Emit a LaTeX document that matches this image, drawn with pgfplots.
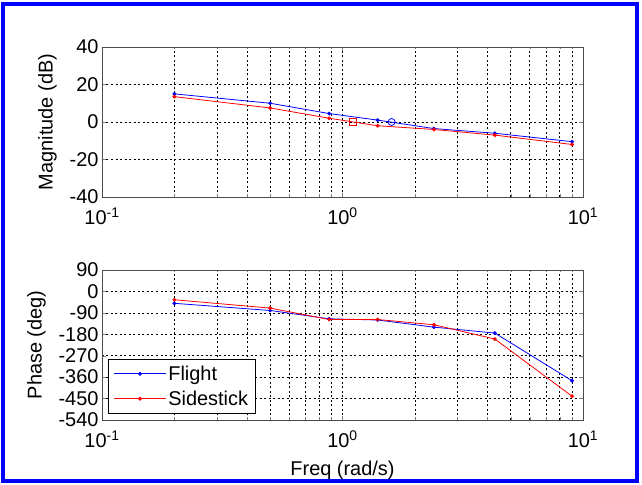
\documentclass[border=0pt]{standalone}
\usepackage{pgfplots}
\pgfplotsset{compat=1.18}
\usepackage{fontspec}
\setmainfont{Liberation Sans}
\pgfplotsset{
  myfl/.style={blue, line width=0.8bp, mark=*, mark size=1.5bp, mark options={fill=blue}},
  mysd/.style={red, line width=0.8bp, mark=*, mark size=1.5bp, mark options={fill=red}},
}
\begin{document}
\begin{tikzpicture}[x=1bp,y=1bp]
\path[fill=white] (0,0) rectangle (642,485);
\draw[blue, line width=4bp] (3,4) rectangle (637,481);
\begin{axis}[at={(102bp,288bp)}, anchor=south west,
  xmode=log, xmin=0.1, xmax=10,
  scale only axis, width=481bp, height=150bp,
  font=\fontsize{20}{23}\selectfont,
  xtick={0.1,1,10},
  xticklabels={10\textsuperscript{-1},10\textsuperscript{0},10\textsuperscript{1}},
  xticklabel style={yshift=-7bp},
  tick align=inside,
  xtick pos=both, ytick pos=both,
  major tick length=4bp, minor tick length=2.5bp,
  xmajorgrids=true, xminorgrids=true, ymajorgrids=true,
  major grid style={black, line width=0.5bp, dash pattern=on 2bp off 2.5bp},
  minor grid style={black, line width=0.5bp, dash pattern=on 2bp off 2.5bp},
  axis line style={black!70, line width=0.6bp},
  clip=false,
  ymin=-40, ymax=40, ytick={-40,-20,0,20,40},
  ylabel={Magnitude (dB)}, ylabel style={yshift=6bp},
  yticklabel style={/pgf/number format/assume math mode=true}]
\addplot[myfl] coordinates {(0.2,15) (0.5,10) (0.88,4.5) (1.4,1) (2.4,-3.5) (4.3,-6) (9,-10.5)};
\addplot[mysd] coordinates {(0.2,13.5) (0.5,7.5) (0.88,2) (1.4,-2) (2.4,-4) (4.3,-7) (9,-12)};
\addplot[blue, only marks, mark=o, mark size=3.5bp, line width=0.8bp] coordinates {(1.6,0)};
\addplot[red, only marks, mark=square, mark size=3.5bp, line width=0.8bp] coordinates {(1.1,0)};
\end{axis}
\begin{axis}[at={(102bp,65bp)}, anchor=south west,
  xmode=log, xmin=0.1, xmax=10,
  scale only axis, width=481bp, height=150bp,
  font=\fontsize{20}{23}\selectfont,
  xtick={0.1,1,10},
  xticklabels={10\textsuperscript{-1},10\textsuperscript{0},10\textsuperscript{1}},
  xticklabel style={yshift=-7bp},
  tick align=inside,
  xtick pos=both, ytick pos=both,
  major tick length=4bp, minor tick length=2.5bp,
  xmajorgrids=true, xminorgrids=true, ymajorgrids=true,
  major grid style={black, line width=0.5bp, dash pattern=on 2bp off 2.5bp},
  minor grid style={black, line width=0.5bp, dash pattern=on 2bp off 2.5bp},
  axis line style={black!70, line width=0.6bp},
  clip=false,
  ymin=-540, ymax=90, ytick={-540,-450,-360,-270,-180,-90,0,90},
  ylabel={Phase (deg)}, ylabel style={yshift=6bp},
  xlabel={Freq (rad/s)}, xlabel style={yshift=-6bp},
  yticklabel style={/pgf/number format/assume math mode=true},
  legend style={at={(rel axis cs:0.013,0.04)}, anchor=south west,
    draw=black, line width=0.6bp, fill=white, inner xsep=5bp, inner ysep=5bp,
    font=\fontsize{20}{23}\selectfont, row sep=5bp},
  legend cell align=left,
  legend image code/.code={\draw[mark repeat=2, mark phase=2, #1] plot coordinates {(0bp,0bp) (26bp,0bp) (52bp,0bp)};}]
\addplot[myfl] coordinates {(0.2,-50) (0.5,-80) (0.88,-115) (1.4,-120) (2.4,-150) (4.3,-175) (9,-375)};
\addlegendentry{Flight}
\addplot[mysd] coordinates {(0.2,-35) (0.5,-70) (0.88,-118) (1.4,-118) (2.4,-140) (4.3,-200) (9,-440)};
\addlegendentry{Sidestick}
\end{axis}
\end{tikzpicture}
\end{document}
